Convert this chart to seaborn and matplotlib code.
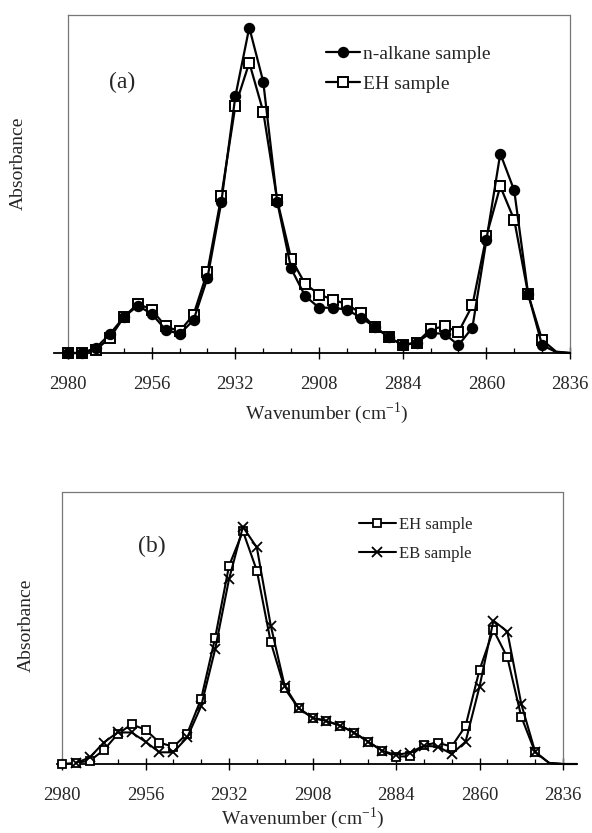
import matplotlib
matplotlib.use("Agg")
import matplotlib.pyplot as plt
import seaborn as sns

# ---------------- data ----------------
wavenumber_a = [2980, 2976, 2972, 2968, 2964, 2960, 2956, 2952, 2948, 2944,
                2940, 2936, 2932, 2928, 2924, 2920, 2916, 2912, 2908, 2904,
                2900, 2896, 2892, 2888, 2884, 2880, 2876, 2872, 2868, 2864,
                2860, 2856, 2852, 2848, 2844, 2840, 2836]
n_alkane_a = [0.000, 0.000, 0.015, 0.056, 0.106, 0.140, 0.116, 0.069, 0.056, 0.097,
              0.222, 0.448, 0.759, 0.963, 0.803, 0.448, 0.250, 0.169, 0.134, 0.134,
              0.128, 0.105, 0.077, 0.047, 0.023, 0.031, 0.059, 0.057, 0.023, 0.075,
              0.333, 0.590, 0.481, 0.174, 0.023, 0.003, 0.000]
eh_a = [0.000, 0.000, 0.010, 0.044, 0.106, 0.146, 0.128, 0.079, 0.064, 0.113,
        0.241, 0.465, 0.731, 0.859, 0.714, 0.453, 0.279, 0.205, 0.173, 0.158,
        0.144, 0.118, 0.077, 0.047, 0.023, 0.031, 0.070, 0.079, 0.062, 0.141,
        0.345, 0.493, 0.394, 0.174, 0.039, 0.004, 0.000]

wavenumber_b = [2980, 2976, 2972, 2968, 2964, 2960, 2956, 2952, 2948, 2944,
                2940, 2936, 2932, 2928, 2924, 2920, 2916, 2912, 2908, 2904,
                2900, 2896, 2892, 2888, 2884, 2880, 2876, 2872, 2868, 2864,
                2860, 2856, 2852, 2848, 2844, 2840, 2836, 2832]
eh_b = [0.000, 0.004, 0.012, 0.051, 0.110, 0.146, 0.126, 0.079, 0.063, 0.112,
        0.240, 0.463, 0.728, 0.856, 0.711, 0.448, 0.278, 0.205, 0.170, 0.158,
        0.141, 0.115, 0.082, 0.049, 0.027, 0.029, 0.070, 0.078, 0.064, 0.140,
        0.346, 0.493, 0.392, 0.174, 0.043, 0.004, 0.000, 0.000]
wavenumber_eb = wavenumber_b[1:]
eb_b = [0.004, 0.024, 0.079, 0.116, 0.116, 0.082, 0.043, 0.043, 0.098,
        0.213, 0.421, 0.679, 0.872, 0.796, 0.509, 0.287, 0.205, 0.170, 0.158,
        0.141, 0.115, 0.082, 0.049, 0.033, 0.042, 0.067, 0.064, 0.037, 0.082,
        0.284, 0.527, 0.487, 0.221, 0.045, 0.004, 0.000, 0.000]

major_ticks = [2980, 2956, 2932, 2908, 2884, 2860, 2836]
minor_ticks = [2972, 2964, 2948, 2940, 2924, 2916, 2900, 2892,
               2876, 2868, 2852, 2844]
tick_labels = ["2980", "2956", "2932", "2908", "2884", "2860", "2836"]

# ---------------- style ----------------
sns.set_style("white")
plt.rcParams["font.family"] = ["Liberation Serif", "DejaVu Serif"]
plt.rcParams["mathtext.fontset"] = "custom"
plt.rcParams["mathtext.rm"] = "Liberation Serif"

W, H = 592, 833
fig = plt.figure(figsize=(W / 100, H / 100), dpi=100)
fig.patch.set_facecolor("white")

ax_a = fig.add_axes([68 / W, 1 - 353 / H, 502 / W, 338 / H])
ax_b = fig.add_axes([62 / W, 1 - 764 / H, 501 / W, 272 / H])


def style_axes(ax, ylab_xy, xlab_xy):
    ax.set_xlim(2980, 2836)
    ax.set_ylim(0, 1)
    ax.set_xticks(major_ticks)
    ax.set_xticklabels(tick_labels)
    ax.set_xticks(minor_ticks, minor=True)
    ax.set_yticks([])
    for side in ["left", "top", "right"]:
        ax.spines[side].set_visible(True)
        ax.spines[side].set_color("#777777")
        ax.spines[side].set_linewidth(0.9)
        ax.spines[side].set_linestyle((0, (1, 1)))
    ax.spines["bottom"].set_color("black")
    ax.spines["bottom"].set_linewidth(1.3)
    ax.tick_params(axis="x", which="major", direction="inout", length=8,
                   width=1.0, color="black", labelsize=13.5, pad=12.5,
                   bottom=True)
    ax.tick_params(axis="x", which="minor", direction="in", length=3.5,
                   width=0.9, color="black", bottom=True)
    ax.set_xlabel("Wavenumber (cm$^{\\mathregular{-1}}$)", fontsize=14,
                  va="center")
    ax.xaxis.set_label_coords(*xlab_xy)
    ax.set_ylabel("Absorbance", fontsize=14, va="center")
    ax.yaxis.set_label_coords(*ylab_xy)
    ax.set_facecolor("white")


# ---------------- panel (a) ----------------
sns.lineplot(x=wavenumber_a, y=eh_a, sort=False, estimator=None, ax=ax_a,
             color="black", linewidth=1.6, marker="s", markersize=6.5,
             markerfacecolor="white", markeredgecolor="black",
             markeredgewidth=1.4, markevery=slice(0, 35), clip_on=False,
             label="EH sample", zorder=3)
sns.lineplot(x=wavenumber_a, y=n_alkane_a, sort=False, estimator=None, ax=ax_a,
             color="black", linewidth=1.6, marker="o", markersize=7.2,
             markerfacecolor="black", markeredgecolor="black",
             markeredgewidth=1.0, markevery=slice(0, 35), clip_on=False,
             label="n-alkane sample", zorder=4)
style_axes(ax_a, ((18 - 68) / 502, 1 - (163 - 15) / 338),
           ((327 - 68) / 502, -(413 - 353) / 338))
ax_a.spines["bottom"].set_bounds(2984, 2836)
ax_a.text(0.108, 0.8, "(a)", transform=ax_a.transAxes, fontsize=17,
          ha="center", va="center")
h, l = ax_a.get_legend_handles_labels()
order = [l.index("n-alkane sample"), l.index("EH sample")]
ax_a.legend([h[i] for i in order], [l[i] for i in order], frameon=False,
            loc="upper left", bbox_to_anchor=(326 / W, 1 - 45 / H),
            bbox_transform=fig.transFigure, fontsize=14, handlelength=1.75,
            handletextpad=0.15, labelspacing=0.65, borderpad=0,
            borderaxespad=0, numpoints=1)

# ---------------- panel (b) ----------------
sns.lineplot(x=wavenumber_b, y=eh_b, sort=False, estimator=None, ax=ax_b,
             color="black", linewidth=1.5, marker="s", markersize=6.0,
             markerfacecolor="white", markeredgecolor="black",
             markeredgewidth=1.3, markevery=slice(0, 35), clip_on=False,
             label="EH sample", zorder=3)
sns.lineplot(x=wavenumber_eb, y=eb_b, sort=False, estimator=None, ax=ax_b,
             color="black", linewidth=1.5, marker="x", markersize=7.0,
             markeredgecolor="black", markeredgewidth=1.3,
             markevery=slice(0, 34), clip_on=False,
             label="EB sample", zorder=4)
style_axes(ax_b, ((26 - 62) / 501, 1 - (625 - 492) / 272),
           ((303 - 62) / 501, -(818 - 764) / 272))
ax_b.spines["bottom"].set_bounds(2981.5, 2836)
ax_b.text(0.18, 0.80, "(b)", transform=ax_b.transAxes, fontsize=17,
          ha="center", va="center")
ax_b.legend(frameon=False, loc="upper left",
            bbox_to_anchor=(359 / W, 1 - 517 / H),
            bbox_transform=fig.transFigure, fontsize=12, handlelength=2.2,
            handletextpad=0.2, labelspacing=0.8, borderpad=0,
            borderaxespad=0, numpoints=1)

fig.savefig("out.png", dpi=100, facecolor="white")
